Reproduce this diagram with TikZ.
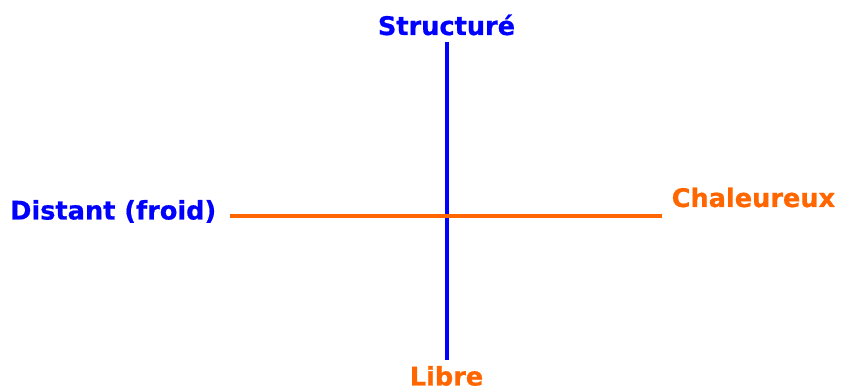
\documentclass[tikz,border=0pt]{standalone}
\usepackage{fontspec}
\setmainfont{DejaVu Sans}
\newfontfamily\lblfont{DejaVu Sans Bold}[FakeBold=0.7]
\definecolor{axblue}{HTML}{0000FF}
\definecolor{axorange}{HTML}{FF6600}
\begin{document}
\begin{tikzpicture}[x=1pt,y=1pt,
  lbl/.style={inner sep=0pt,font=\fontsize{25.6}{30}\lblfont},
  axis/.style={line width=4pt}]
\useasboundingbox (0,0) rectangle (842,390);
\coordinate (vtop) at (447,348);
\coordinate (vbot) at (447,30);
\coordinate (hl) at (230,174);
\coordinate (hr) at (662,174);
\draw[axis,axblue] (vtop) -- (vbot);
\draw[axis,axorange] (hl) -- (hr);
\node[lbl,text=axblue,anchor=base] (s) at (446.5,355) {Structuré};
\node[lbl,text=axorange,anchor=base] (l) at (446.5,4.5) {Libre};
\node[lbl,text=axblue,anchor=base west] (d) at (10,170.5) {Distant (froid)};
\node[lbl,text=axorange,anchor=base west] (c) at (671.5,183) {Chaleureux};
\end{tikzpicture}
\end{document}
